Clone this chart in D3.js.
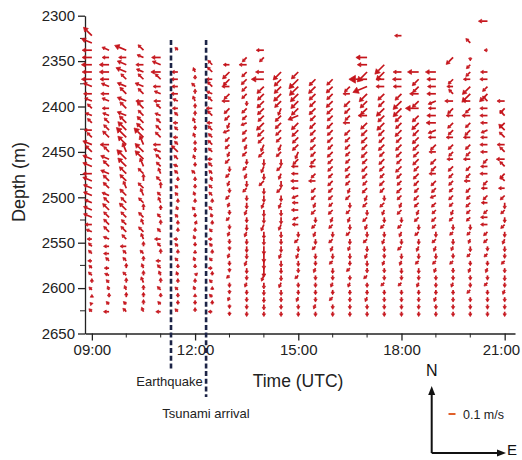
<!DOCTYPE html>
<html>
<head>
<meta charset="utf-8">
<script src="https://cdn.jsdelivr.net/npm/d3@7"></script>
<style>
  body { margin: 0; background: #fff; }
  svg { display: block; font-family: "Liberation Sans", Arial, sans-serif; }
</style>
</head>
<body>
<div id="chart"></div>
<script>
// profile times (hours UTC), one column every half hour
const times = [9, 9.5, 10, 10.5, 11, 11.5, 12, 12.5, 13, 13.5, 14, 14.5, 15,
  15.5, 16, 16.5, 17, 17.5, 18, 18.5, 19, 19.5, 20, 20.5, 21]

// depth cells (m)
const depths = [2306, 2314, 2322, 2330, 2338, 2346, 2354, 2362, 2370, 2378,
  2386, 2394, 2402, 2410, 2418, 2426, 2434, 2442, 2450, 2458, 2466, 2474,
  2482, 2490, 2498, 2506, 2514, 2522, 2530, 2538, 2546, 2554, 2562, 2570,
  2578, 2586, 2594, 2602, 2610, 2618, 2626]

// one string per column, top to bottom, last token sits in the deepest cell
// token = compass direction + speed in cm/s, "-" = no data
const currents = [
  "NW17 WNW16 W14 W14 W15 W14 W15 WNW13 W12 WNW11 NW9 WNW10 NW9 W11 NW10 WNW14 NW13 WNW14 WNW14 W13 WNW14 WNW13 WNW13 WNW11 WNW13 WNW13 W10 WNW9 W7 NW7 NW7 W6 NW6 NW7 N6 NW6 N4 NW4 NW6",
  "WNW11 W10 W14 W14 W13 WNW12 W12 WNW11 W10 WNW10 NW10 NW11 NW13 W13 NW11 WNW13 NW12 WNW13 NW12 NW12 WNW11 NW11 NW13 NW11 NW11 NW11 WNW9 W8 W8 NW7 W7 WNW7 NW6 NNW6 N6 NW6 W8",
  "WNW18 W11 WNW14 WNW16 NW11 WNW14 NW13 WNW14 NW13 WNW14 NW14 NW17 NW20 NW17 NNW14 NW19 NW17 NW14 NW13 NNW11 NW13 NW11 NW14 NW11 NW10 NW11 NW9 W9 NW7 NW7 N7 NW7 N7 NNW7 N7 NW6 NW7",
  "NW11 WNW10 W11 WNW11 NW11 WNW13 NW11 W11 NW13 NW11 NW13 NW14 NW19 NNW14 NW17 NW17 NNW13 NW11 N10 NW11 NNW11 NW10 N9 NW10 NNW9 NW10 NNW9 N7 NW7 N7 NNW7 N7 NNW9 N7 N7 N7 NNW7",
  "W13 WNW13 W14 NW11 W11 WNW10 W10 NW9 WNW9 NW9 NW10 NW11 W11 WNW11 NW10 NW9 NNW9 NW9 N9 NW7 NNW9 N7 NW7 N7 NW7 W9 NW7 N7 W7 NW7 NNW7 N7 NW7 N6 NW6 W7",
  "NW6 - - W9 W10 W9 W10 WNW8 W8 NW7 W7 NW7 W7 NW7 NW13 NW8 WNW7 NW7 N6 NW6 NW6 N6 NNW6 NW6 N6 N6 W6 NW6 N6 NW6 N6 NNW6 N6 NW6 N6 N6 NW6",
  "NNW7 N6 NW7 N7 NNW8 N7 N7 NNW8 N7 NNW7 N6 N7 NNW7 N6 NW7 N6 N6 NNW6 N6 NW6 N6 NNE6 N6 NNW6 N6 N5 NNW6 N6 NE5 N6 NNW6 N5 N6 N6",
  "NW9 NW10 W9 NW10 WNW9 NW9 W9 NW10 W8 NW9 NW8 NW9 NW8 W7 NW8 NW7 NNW7 NW7 NW7 N6 NW7 NNW6 N6 NW6 W6 NW6 N6 NW6 W6 N6 NW6 N5 NW6 N6 W6",
  "W9 SW14 SW13 W11 SW11 W11 SW11 SW10 SSW9 WSW10 SW9 SW9 SSW8 SW9 S8 SW8 SSW8 S7 SW8 SSW7 S7 SW7 S7 SSW7 S7 S6 SSW7 S7 S6 SW6 S7 S6 SSW6 S6 S6",
  "SW9 W11 SW10 SW11 SW10 SW10 S7 SW10 SW9 WSW9 SW9 SW9 SSW8 SW9 S8 SW8 SSW8 S9 SW8 S8 S9 SSW8 S8 S9 SSW8 S8 S9 S8 SSW8 S8 S7 SSW7 S7 S7 S7 S7",
  "W11 SW9 - W12 W18 SW14 SW13 SW14 SW13 SW12 SW15 SW13 SW12 SSW11 SW11 S10 SSW10 S9 SW10 S9 S10 SSW9 S10 S9 SSW10 S10 S9 S12 S13 S12 S13 SSW9 S9 S8 S8 S8 S7",
  "SW16 SW14 SW14 SW15 SW13 SSW11 SW12 SW12 SW11 SW10 SSW10 SW10 S10 SW9 SSW9 S10 SW9 S9 SSW9 S9 S10 SSW9 S9 S8 S9 SSW8 S9 S8 S8 SSW8 S8 S7 S7 S7",
  "SW14 SW19 SW18 SW16 SW15 SW14 WSW16 SW14 SW13 SW12 SW12 SSW11 SW11 W10 W10 W11 W10 WSW10 W9 W10 WSW9 W9 S8 SW8 S8 SSW8 S8 S7 SW7 S7 S7 SSW7 S7 S7",
  "SW13 SW14 SW13 SW12 SW13 SW11 SW12 SW11 SW10 SW11 SW10 SW10 W9 SW9 W10 SW9 SW9 SSW8 SW9 S8 SW8 SSW8 S8 SW7 S8 S7 SSW7 S7 S7 S7 S7 SSW7 S7",
  "SW12 SW13 SW12 SW13 SW12 SW11 SW12 SW11 SW11 SW10 SW11 SW10 SW10 SW9 SW10 SW9 SW9 SW8 SW9 SSW8 SW8 S8 SW8 SSW8 S8 SW7 S8 S7 SSW7 S7 SW7 S7 S7",
  "SW11 W10 SW12 SW11 SW10 W10 SW11 SW10 SW10 SW9 SW9 SW10 SW9 SW9 SSW8 SW9 S8 SW8 SSW8 S8 SW8 S8 SSW7 S8 S7 SW7 S7 SSW7 S7 S7 S7 S7",
  "W16 W14 SW20 W26 WSW22 SW16 SW14 SW13 W13 SW13 SW12 SW12 SW11 SW12 SW10 SW11 SW10 SW9 SW10 SSW9 SW9 S8 SW9 SSW8 S8 SW8 S8 SSW8 S8 S7 SW7 S7 S7 SSW7 S7 S7",
  "SW19 SW16 W12 W12 SW13 SW12 SW16 SW13 SW15 SW12 SW11 SW12 SW10 SW11 SW10 SW9 SW10 SW9 S8 SW9 SSW8 S8 SW8 S8 SSW8 S8 S7 SSW7 S7 S7 SW7 S7 S7 S7 S7",
  "W10 - - - - W12 W13 W12 SW13 SW17 SW17 SW13 SW12 SW13 SW11 SW12 SW11 SW10 SW12 SW10 SW9 SW10 SW9 SSW8 SW9 S8 SW8 SSW8 S8 SW8 S8 SSW7 S8 S7 SW7 S7 S7 S7 S7",
  "W16 SW13 SW12 W13 SW13 W19 SW13 SW14 SW12 SW13 SW12 SW11 SW12 SW10 SW11 SW10 SW9 SW10 SW9 SSW8 SW9 S8 SW8 S8 SSW8 S8 SW7 S8 S7 SSW7 S7 S7 S7 S7",
  "W15 W13 W12 W13 WSW12 W11 W13 W14 WSW12 W11 SW11 W10 SW11 SW10 W10 SW10 SW9 WSW9 SW9 SW8 SW9 SW8 S8 SW8 SSW8 S8 SW7 SSW7 S7 S7 S7 SSW7 S7 S7",
  "SW14 - - SW10 W9 NW9 W12 SW11 W10 SW11 SW10 W10 SW10 SW9 W9 SW10 SW9 SW9 SW8 SW9 SW8 SSW8 SW8 S8 SW7 S8 SSW7 S7 SW7 S7 S7 SSW7 S7 S7 S7 S7",
  "NW9 - S5 SW8 SW9 W10 SW16 SW17 W11 SW10 W12 SW10 SW11 W10 SW10 SW9 W10 SW9 SW9 W9 SW9 SW8 SW9 SW8 SW8 S8 SW7 SSW7 S8 SW7 S7 SSW7 S7 S7 SW7 S7 S7 S7",
  "W13 - - - W5 - - W10 W11 SW10 SW16 NW10 W11 W11 W10 WSW10 W10 W11 W10 SW9 W10 W11 SW9 W9 SW9 W9 SW8 W10 W10 SW8 SW8 S7 SW7 S7 SSW7 S7 SW7 S7 S7 S7 S7",
  "W11 SW10 NW10 SW11 NW12 NW11 W11 NW10 W12 NW10 SW10 NW9 W9 SW9 S9 SW8 S8 SW8 S8 SSW8 S8 S7 SW7 S7 S8 S7 SSW7 S7 S7 S7"
]

const quakeTime = 11.3
const tsunamiTime = 12.32
const depthTicks = [2300, 2350, 2400, 2450, 2500, 2550, 2600, 2650]
const timeTicks = [9, 12, 15, 18, 21]
const refSpeed = 10 // cm/s, the 0.1 m/s key

const compass = { N: 0, NNE: 22.5, NE: 45, ENE: 67.5, E: 90, ESE: 112.5, SE: 135, SSE: 157.5,
  S: 180, SSW: 202.5, SW: 225, WSW: 247.5, W: 270, WNW: 292.5, NW: 315, NNW: 337.5 }

const width = 522, height = 460
const red = "#c5151c"

const svg = d3.select("#chart").append("svg")
  .attr("width", width)
  .attr("height", height)

svg.append("rect").attr("width", width).attr("height", height).attr("fill", "#fff")

const x = d3.scaleLinear().domain([8.8, 21.3]).range([85, 515])
const y = d3.scaleLinear().domain([2300, 2650]).range([15.7, 333.5])
// 0.1 m/s is about 7 px long
const len = d3.scaleLinear().domain([0, 10]).range([0, 7])

// flatten columns into vectors
const vectors = []
currents.forEach((col, i) => {
  const toks = col.trim().split(/\s+/)
  const first = depths.length - toks.length
  toks.forEach((t, j) => {
    const m = t.match(/^([NSEW]+)(\d+)$/)
    if (!m) return
    vectors.push({ time: times[i], depth: depths[first + j], dir: compass[m[1]], speed: +m[2] })
  })
})

function arrow(x0, y0, bearing, l, headMin) {
  const a = bearing * Math.PI / 180
  const ux = Math.sin(a), uy = -Math.cos(a)
  const x1 = x0 + ux * l, y1 = y0 + uy * l
  const h = Math.max(headMin, l * 0.36), w = h * 0.6
  const bx = x1 - ux * h, by = y1 - uy * h
  const px = -uy, py = ux
  return {
    shaft: `M${x0},${y0}L${bx},${by}`,
    head: `M${x1},${y1}L${bx + px * w},${by + py * w}L${bx - px * w},${by - py * w}Z`
  }
}

// axes
const yAxis = d3.axisLeft(y).tickValues(depthTicks).tickFormat(d3.format("d"))
  .tickSize(7).tickSizeOuter(0).tickPadding(3)
const gy = svg.append("g").attr("transform", `translate(${x.range()[0]},0)`).call(yAxis)
gy.selectAll("text").attr("font-size", 15).attr("fill", "#222")
gy.append("g").selectAll("line")
  .data(depthTicks.slice(0, -1).map(d => d + 25))
  .join("line")
  .attr("x1", -5).attr("x2", 0)
  .attr("y1", d => y(d)).attr("y2", d => y(d))
  .attr("stroke", "#222")

const fmt = h => String(h).padStart(2, "0") + ":00"
const xAxis = d3.axisBottom(x).tickValues(timeTicks).tickFormat(fmt).tickSize(7).tickSizeOuter(0).tickPadding(4)
const gx = svg.append("g").attr("transform", `translate(0,${y.range()[1]})`).call(xAxis)
gx.selectAll("text").attr("font-size", 15).attr("fill", "#222")
// last label sits against the right edge, as in the figure
gx.selectAll(".tick text").filter(d => d === 21).attr("text-anchor", "end").attr("dx", 15)
gx.append("g").selectAll("line")
  .data(d3.range(9, 22).filter(h => !timeTicks.includes(h)))
  .join("line")
  .attr("x1", d => x(d)).attr("x2", d => x(d))
  .attr("y1", 0).attr("y2", 4)
  .attr("stroke", "#222")
svg.selectAll(".domain, .tick line").attr("stroke", "#222").attr("stroke-width", 1.3)

// current vectors
const vg = svg.append("g")
vectors.forEach(v => {
  const p = arrow(x(v.time), y(v.depth), v.dir, len(v.speed), 2.8)
  vg.append("path").attr("d", p.shaft).attr("stroke", red).attr("stroke-width", 1.7).attr("fill", "none")
  vg.append("path").attr("d", p.head).attr("fill", red).attr("stroke", red).attr("stroke-width", 0.7)
})

// event lines
const events = [
  { t: quakeTime, y2: 371 },
  { t: tsunamiTime, y2: 397 }
]
svg.append("g").selectAll("line")
  .data(events)
  .join("line")
  .attr("x1", d => x(d.t)).attr("x2", d => x(d.t))
  .attr("y1", 40).attr("y2", d => d.y2)
  .attr("stroke", "#1c2447")
  .attr("stroke-width", 2.6)
  .attr("stroke-dasharray", "5,2.7")
svg.append("text").attr("x", 169.5).attr("y", 386).attr("text-anchor", "middle")
  .attr("font-size", 13).attr("fill", "#222").text("Earthquake")
svg.append("text").attr("x", 206).attr("y", 418).attr("text-anchor", "middle")
  .attr("font-size", 13).attr("fill", "#222").text("Tsunami arrival")

// axis titles
svg.append("text").attr("x", 298).attr("y", 387).attr("text-anchor", "middle")
  .attr("font-size", 17.5).attr("fill", "#222").text("Time (UTC)")
svg.append("text").attr("transform", "translate(25,182) rotate(-90)").attr("text-anchor", "middle")
  .attr("font-size", 18).attr("fill", "#222").text("Depth (m)")

// north / east key
const ox = 431.7, oy = 453
const key = svg.append("g").attr("stroke", "#111").attr("fill", "#111")
key.append("line").attr("x1", ox).attr("y1", oy).attr("x2", ox).attr("y2", 392).attr("stroke-width", 2)
key.append("path").attr("d", `M${ox},386L${ox - 3.5},395L${ox + 3.5},395Z`).attr("stroke", "none")
key.append("line").attr("x1", ox).attr("y1", oy).attr("x2", 500).attr("y2", oy).attr("stroke-width", 2)
key.append("path").attr("d", `M506,${oy}L497,${oy - 3.5}L497,${oy + 3.5}Z`).attr("stroke", "none")
svg.append("text").attr("x", ox).attr("y", 376).attr("text-anchor", "middle")
  .attr("font-size", 16).attr("fill", "#111").text("N")
svg.append("text").attr("x", 512).attr("y", 455).attr("text-anchor", "middle")
  .attr("font-size", 15).attr("fill", "#111").text("E")

// speed key
svg.append("line").attr("x1", 448.5).attr("x2", 448.5 + len(refSpeed))
  .attr("y1", 414).attr("y2", 414).attr("stroke", "#e0602a").attr("stroke-width", 2)
svg.append("text").attr("x", 463).attr("y", 418.5)
  .attr("font-size", 12.5).attr("fill", "#222").text("0.1 m/s")
</script>
</body>
</html>
